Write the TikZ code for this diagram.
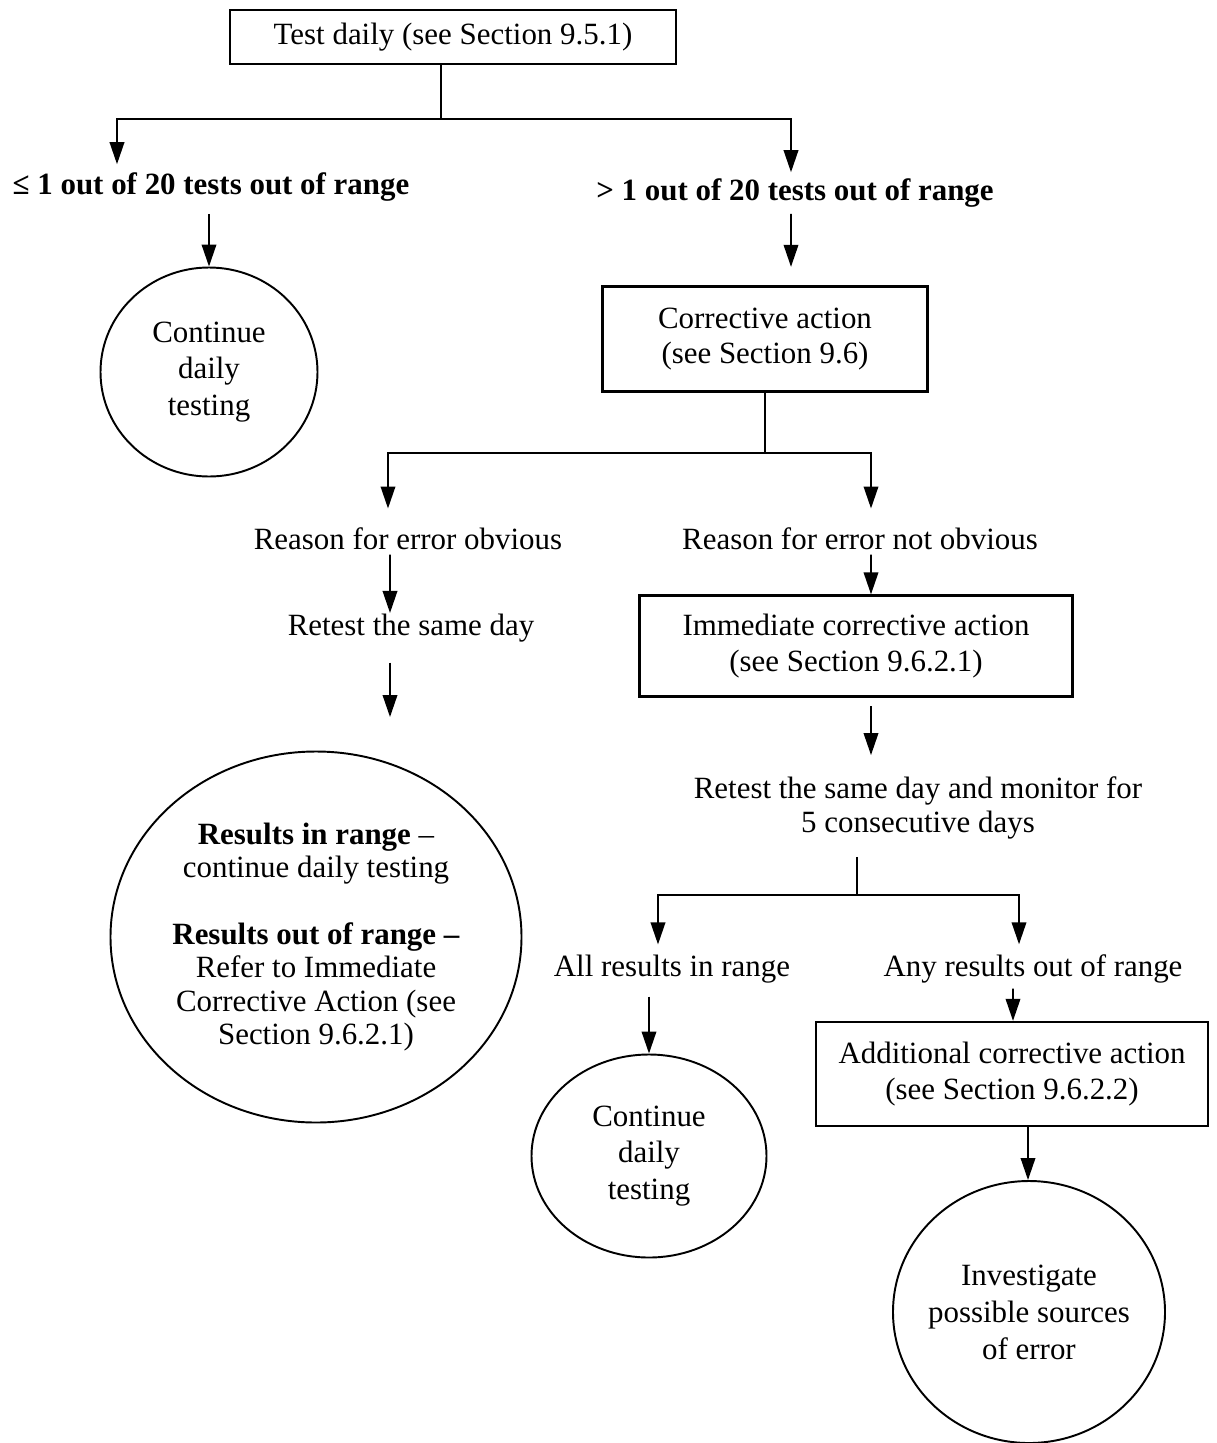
\documentclass[tikz,border=0pt]{standalone}
\usepackage{fontspec}
\setmainfont{Liberation Serif}
\usetikzlibrary{arrows.meta}
\usetikzlibrary{positioning, shapes.geometric}

\begin{document}
\begin{tikzpicture}[node distance=1cm, >={Triangle[length=0.44cm, width=0.29cm]}, line width=1.1pt, font=\fontsize{17.6}{19}\selectfont]
              \tikzstyle{block} = [rectangle, draw=black, align=center, line width=1.3pt, font=\fontsize{17.6}{20}\selectfont]
              \tikzstyle{lbl} = [inner sep=0pt, align=center]
              \tikzstyle{disc} = [ellipse, draw=black, align=center, inner sep=0pt, font=\fontsize{17.6}{21}\selectfont]
              \useasboundingbox (0,0) rectangle (24.32,-28.86);
              \node (test) [block, minimum width=8.92cm, minimum height=1.08cm] at (9.06,-0.74) {Test daily (see Section 9.5.1)};
              \node (le) [lbl, below of=test, xshift=-4.84cm, yshift=-2cm] {\textbf{≤ 1 out of 20 tests out of range}};
              \node (gt) [lbl, below of=test, xshift=6.84cm, yshift=-2.12cm] {\textbf{> 1 out of 20 tests out of range}};
              \node (cont1) [disc, minimum width=4.34cm, minimum height=4.18cm, below of=le, xshift=-0.04cm, yshift=-2.7cm] {Continue\\daily\\testing};
              \node (corr) [block, minimum width=6.5cm, minimum height=2.1cm, below of=gt, xshift=-0.6cm, yshift=-1.92cm] {Corrective action\\(see Section 9.6)};
              \node (obv) [lbl, below of=corr, xshift=-7.14cm, yshift=-3cm] {Reason for error obvious};
              \node (nobv) [lbl, below of=corr, xshift=1.9cm, yshift=-3cm] {Reason for error not obvious};
              \node (retest) [lbl, below of=obv, xshift=0.06cm, yshift=-0.78cm] {Retest the same day};
              \node (big) [disc, minimum width=8.22cm, minimum height=7.42cm, below of=retest, xshift=-1.9cm, yshift=-5.18cm, font=\fontsize{17.6}{19}\selectfont] {\textbf{Results in range} --\\continue daily testing\\[19pt]\textbf{Results out of range --}\\Refer to Immediate\\Corrective Action (see\\Section 9.6.2.1)};
              \node (imm) [block, minimum width=8.66cm, minimum height=2.02cm, below of=nobv, xshift=-0.08cm, yshift=-1.14cm] {Immediate corrective action\\(see Section 9.6.2.1)};
              \node (monitor) [lbl, below of=imm, xshift=1.24cm, yshift=-2.24cm] {Retest the same day and monitor for\\5 consecutive days};
              \node (allin) [lbl, below of=monitor, xshift=-4.92cm, yshift=-2.22cm] {All results in range};
              \node (anyout) [lbl, below of=monitor, xshift=2.3cm, yshift=-2.22cm] {Any results out of range};
              \node (cont2) [disc, minimum width=4.7cm, minimum height=4.06cm, below of=allin, xshift=-0.46cm, yshift=-2.74cm] {Continue\\daily\\testing};
              \node (addl) [block, minimum width=7.84cm, minimum height=2.08cm, below of=anyout, xshift=-0.42cm, yshift=-1.1cm] {Additional corrective action\\(see Section 9.6.2.2)};
              \node (invest) [disc, minimum width=5.44cm, minimum height=5.24cm, inner xsep=-0.3cm, below of=addl, xshift=0.34cm, yshift=-3.76cm] {Investigate\\possible sources\\of error};
              \coordinate (split1) at ([xshift=-0.24cm, yshift=-1.08cm]test.south);
              \draw ([xshift=-0.24cm]test.south) -- (split1);
              \draw[->] (split1) -| ([xshift=-1.88cm, yshift=0.15cm]le.north);
              \draw[->] (split1) -| ([xshift=-0.08cm, yshift=0.11cm]gt.north);
              \draw[->, shorten <=0.23cm] (le.south -| cont1.north) -- (cont1.north);
              \draw[->, shorten <=0.11cm, shorten >=0.37cm] ([xshift=-0.08cm]gt.south) -- ([xshift=0.52cm]corr.north);
              \coordinate (split2) at ([yshift=-1.21cm]corr.south);
              \draw (corr.south) -- (split2);
              \draw[->] (split2) -| ([xshift=-0.40cm, yshift=0.37cm]obv.north);
              \draw[->] (split2) -| ([xshift=0.22cm, yshift=0.37cm]nobv.north);
              \draw[->, shorten <=0.07cm] ([xshift=-0.36cm]obv.south) -- ([xshift=-0.42cm]retest.north);
              \draw[->] ([xshift=-0.42cm, yshift=-0.39cm]retest.south) -- ([xshift=1.48cm, yshift=0.67cm]big.north);
              \draw[->, shorten <=0.07cm] ([xshift=0.22cm]nobv.south) -- ([xshift=0.30cm]imm.north);
              \draw[->, shorten <=0.17cm] ([xshift=0.30cm]imm.south) -- ([xshift=-0.94cm, yshift=0.42cm]monitor.north);
              \coordinate (split3) at ([xshift=-1.22cm, yshift=-1.1cm]monitor.south);
              \draw[shorten <=0.34cm] ([xshift=-1.22cm]monitor.south) -- (split3);
              \draw[->] (split3) -| ([xshift=-0.28cm, yshift=0.19cm]allin.north);
              \draw[->] (split3) -| ([xshift=-0.28cm, yshift=0.19cm]anyout.north);
              \draw[->, shorten <=0.25cm] (allin.south -| cont2.north) -- (cont2.north);
              \draw[->, shorten <=0.09cm] ([xshift=-0.40cm]anyout.south) -- ([xshift=0.02cm]addl.north);
              \draw[->] ([xshift=0.32cm]addl.south) -- ([xshift=-0.02cm]invest.north);
            \end{tikzpicture}
\end{document}
